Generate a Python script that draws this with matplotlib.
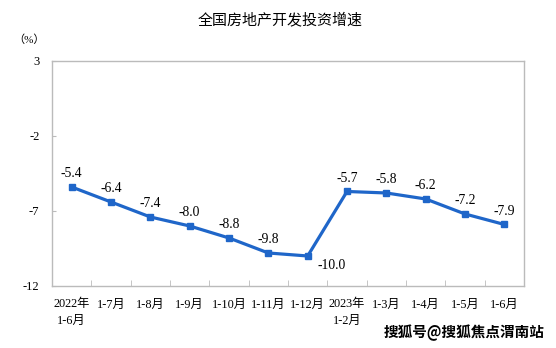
import matplotlib
matplotlib.use("Agg")
import matplotlib.pyplot as plt
import numpy as np

categories = ["2022年\n1-6月", "1-7月", "1-8月", "1-9月", "1-10月", "1-11月", "1-12月",
              "2023年\n1-2月", "1-3月", "1-4月", "1-5月", "1-6月"]
values = [-5.4, -6.4, -7.4, -8.0, -8.8, -9.8, -10.0, -5.7, -5.8, -6.2, -7.2, -7.9]
yticks = [3, -2, -7, -12]

fam = ['Liberation Serif', 'Noto Sans CJK SC']
fig = plt.figure(figsize=(5.56, 3.48), dpi=100)
ax = fig.add_axes([0.0935, 0.1782, 0.849, 0.6466])

x = np.arange(len(values))
color = '#1F66C9'
ax.plot(x, values, color=color, lw=2.3, marker='s', ms=4.5, mfc=color, mec=color)

ax.set_xlim(-0.5, len(values) - 0.5)
ax.set_ylim(-12, 3)
ax.set_yticks(yticks)
ax.set_yticklabels([str(t) for t in yticks], family=fam, fontsize=9)
ax.set_xticks(x)
ax.set_xticklabels(categories, family=fam, fontsize=8.8, linespacing=1.45, va='top')
ax.tick_params(axis='x', which='major', length=0, pad=9)
ax.tick_params(axis='y', direction='in', length=3, color='#BBBBBB', pad=9)
ax.set_xticks(np.arange(0.5, len(values) - 0.5, 1), minor=True)
ax.tick_params(axis='x', which='minor', direction='in', length=4, color='#BBBBBB')
for s in ax.spines.values():
    s.set_color('#BBBBBB')
    s.set_linewidth(1.0)

for i, v in enumerate(values):
    if i == 6:
        ax.annotate(f"{v:.1f}", (i, v), xytext=(7, -2), textcoords='offset points',
                    ha='left', va='top', family=fam, fontsize=9.8)
    else:
        ax.annotate(f"{v:.1f}", (i, v), xytext=(0, 5), textcoords='offset points',
                    ha='center', va='bottom', family=fam, fontsize=9.8)

fig.text(0.504, 0.942, "全国房地产开发投资增速", ha='center', va='center',
         family=['Noto Sans CJK SC'], fontsize=10.8)
fig.text(0.052, 0.885, "（%）", ha='center', va='center', family=fam, fontsize=8)
fig.text(0.98, 0.045, "搜狐号@搜狐焦点渭南站", ha='right', va='center',
         family=['Noto Sans CJK SC'], fontsize=10.5, fontweight='bold')

fig.savefig("out.png", dpi=100)
